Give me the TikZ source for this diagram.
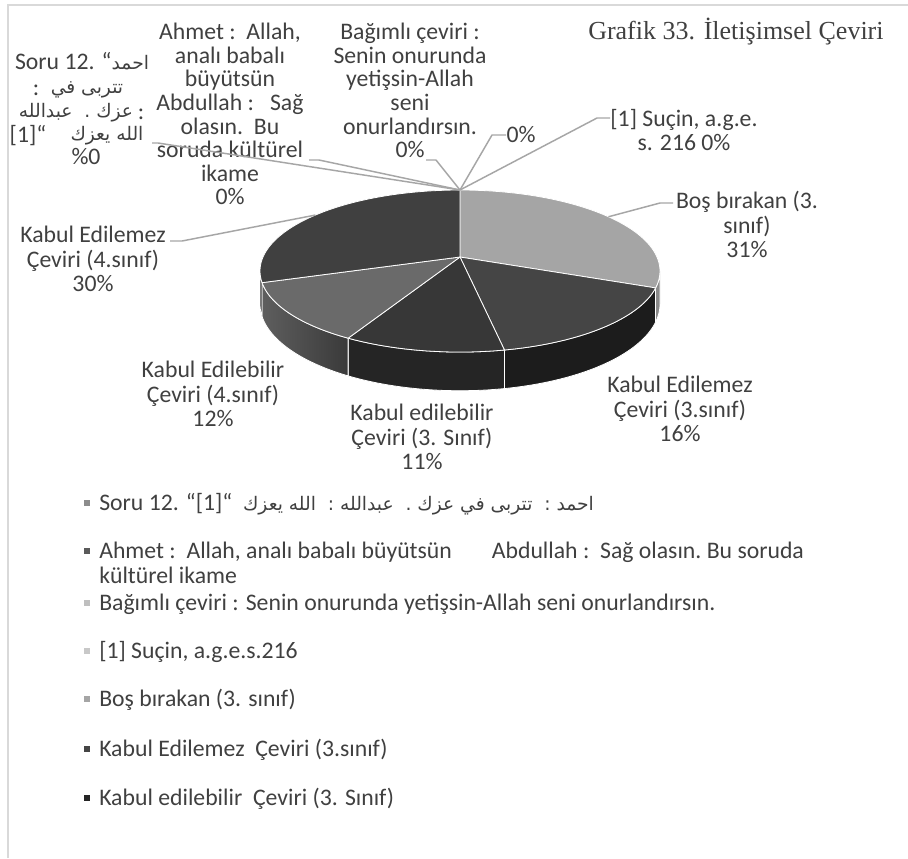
\documentclass[tikz,border=0pt]{standalone}
\usepackage{fontspec}
\setmainfont{Carlito}
\newfontfamily\titlefont{Liberation Serif}
\newfontfamily\ar[Script=Arabic]{DejaVu Sans}
\TeXXeTstate=1
\definecolor{txt}{HTML}{404040}
\definecolor{leader}{HTML}{A6A6A6}
\definecolor{framec}{HTML}{D9D9D9}
\definecolor{cbos}{HTML}{A5A5A5}
\definecolor{cbosside}{HTML}{8A8A8A}
\definecolor{cke3}{HTML}{454545}
\definecolor{cke3side}{HTML}{1C1C1C}
\definecolor{ckeb3}{HTML}{373737}
\definecolor{ckeb3side}{HTML}{252525}
\definecolor{ckeb4}{HTML}{6A6A6A}
\definecolor{ckeb4sa}{HTML}{5E5E5E}
\definecolor{ckeb4sb}{HTML}{3A3A3A}
\definecolor{cke4}{HTML}{404040}
\definecolor{cke4side}{HTML}{303030}
\definecolor{bsoru}{HTML}{8C8C8C}
\definecolor{bahmet}{HTML}{5A5A5A}
\definecolor{bbag}{HTML}{BFBFBF}
\definecolor{bsucin}{HTML}{C8C8C8}
\pgfmathdeclarefunction{pkx}{1}{\pgfmathparse{460+197*sin(#1)/(1+0.173*cos(#1))}}
\pgfmathdeclarefunction{pky}{1}{\pgfmathparse{257-78.6*cos(#1)/(1+0.173*cos(#1))}}
\pgfmathdeclarefunction{pkb}{1}{\pgfmathparse{257+(32-78.6*cos(#1))/(1+0.173*cos(#1))}}
\newcommand\pietop[3]{%
  \path[fill=#3, draw=white, line width=0.6pt, line join=round] (ctr) -- plot[domain=#1:#2, samples=60, variable=\t] ({pkx(\t)},{pky(\t)}) -- cycle;}
\newcommand\pieside[3]{%
  \path[draw=white, line width=0.6pt, #3] plot[domain=#1:#2, samples=40, variable=\t] ({pkx(\t)},{pky(\t)}) -- plot[domain=#2:#1, samples=40, variable=\t] ({pkx(\t)},{pkb(\t)}) -- cycle;}
\newcommand\arw{\ar\fontsize{14}{15}\selectfont}
\newcommand\fnlbl{\fontsize{17.8}{18.4}\selectfont\lineskiplimit=-10pt\relax}
\newcommand\fntop{\fontsize{17.8}{17.7}\selectfont\lineskiplimit=-10pt\relax}
\newcommand\fnleg{\fontsize{17.8}{18.8}\selectfont\lineskiplimit=-10pt\relax}
\begin{document}
\begin{tikzpicture}[x=0.75pt,y=-0.75pt,
  lbl/.style={font=\fnlbl, text=txt, align=center, inner sep=0pt, anchor=north},
  lbltop/.style={lbl, font=\fntop},
  lone/.style={font=\fnlbl, text=txt, inner sep=0pt, anchor=base},
  arl/.style={font=\arw, text=txt, inner sep=0pt, anchor=base},
  leg/.style={font=\fnleg, text=txt, inner sep=0pt, anchor=base west},
  bul/.style={rectangle, inner sep=0pt, minimum size=4.5pt},
  leaderline/.style={draw=leader, line width=1.1pt, line join=round}]
\useasboundingbox (0,0) rectangle (908,858);
\fill[white] (0,0) rectangle (908,858);
% frame
\draw[framec, line width=1.5pt] (8,858) -- (8,5) -- (908,5);
% title
\node[anchor=west, inner sep=0pt, text=txt, font=\titlefont\fontsize{19.5}{22}\selectfont] (title) at (588,32) {Grafik 33. İletişimsel Çeviri};
% pie
\coordinate (ctr) at (460,257);
\pieside{99.96}{111.6}{fill=cbosside}
\pieside{111.6}{169.2}{fill=cke3side}
\pieside{169.2}{208.8}{fill=ckeb3side}
\pieside{208.8}{252}{left color=ckeb4sa, right color=ckeb4sb}
\pieside{252}{260.04}{fill=cke4side}
\pietop{0}{111.6}{cbos}
\pietop{111.6}{169.2}{cke3}
\pietop{169.2}{208.8}{ckeb3}
\pietop{208.8}{252}{ckeb4}
\pietop{252}{360}{cke4}
\coordinate (ptop) at ({pkx(0)},{pky(0)});
\coordinate (pbos) at ({pkx(55.8)},{pky(55.8)});
\coordinate (pke4) at ({pkx(306)},{pky(306)});
% data label of "Soru 12", line by line
\node[lone] (lsoru1) at (82,69) {Soru 12. “{\arw\beginR احمد\endR}};
\node[lone] (lsoru2c) at (36,95) {:};
\node[arl] (lsoru2a) at (87,93) {\beginR تتربى في\endR};
\node[arl] (lsoru3a) at (76,117) {\beginR عزك .\ \ عبدالله\endR};
\node[lone] (lsoru3c) at (141,119) {:};
\node[lone] (lsoru4b) at (28,142) {[1]“};
\node[arl] (lsoru4a) at (107,140) {\beginR الله يعزك\endR};
\node[lone] (lsoru5) at (86,164) {\%0};
% other data labels
\node[lbltop] (lahmet) at (230,23) {Ahmet :\ \ Allah,\\analı babalı\\büyütsün\\Abdullah :\ \ \ Sağ\\olasın.\ \ Bu\\soruda kültürel\\ikame\\0\%};
\node[lbltop] (lbag) at (410,23) {Bağımlı çeviri :\\Senin onurunda\\yetişsin-Allah\\seni\\onurlandırsın.\\0\%};
\node[lbl] (lzero) at (521,126) {0\%};
\node[lbl] (lsucin) at (684,109) {[1] Suçin, a.g.e.\\s. 216 0\%};
\node[lbl] (lbos) at (747,191) {Boş bırakan (3.\\sınıf)\\31\%};
\node[lbl] (lke3) at (680,376) {Kabul Edilemez\\Çeviri (3.sınıf)\\16\%};
\node[lbl] (lkeb3) at (422,404) {Kabul edilebilir\\Çeviri (3. Sınıf)\\11\%};
\node[lbl] (lkeb4) at (213,361) {Kabul Edilebilir\\Çeviri (4.sınıf)\\12\%};
\node[lbl] (lke4) at (93,226) {Kabul Edilemez\\Çeviri (4.sınıf)\\30\%};
% leader lines
\coordinate (tsoru) at (152,143);
\coordinate (tahmet) at (309,160);
\coordinate (tbag) at (426,160);
\coordinate (tzero) at (506,135);
\coordinate (tsucin) at (610,118);
\coordinate (tbos) at (673,203);
\coordinate (tke4) at (170,241);
\draw[leaderline] (tsoru) -- ++(6,0) -- (ptop);
\draw[leaderline] (tahmet) -- ++(10,0) -- (ptop);
\draw[leaderline] (tbag) -- ++(10,0) -- (ptop);
\draw[leaderline] (tzero) -- ++(-14,0) -- (ptop);
\draw[leaderline] (tsucin) -- ++(-13,0) -- (ptop);
\draw[leaderline] (tbos) -- ++(-13,0) -- (pbos);
\draw[leaderline] (tke4) -- ++(12,0) -- (pke4);
% legend
\node[bul, fill=bsoru] (b1) at (87,503) {};
\node[leg] (g1) at (99,510) {Soru 12. “[1]“\hspace{8pt}{\ar\fontsize{14}{15}\selectfont\beginR احمد :\ \ تتربى في عزك .\ \ عبدالله :\ \ الله يعزك\endR}};
\node[bul, fill=bahmet] (b2) at (87,551) {};
\node[leg, anchor=north west, align=left] (g2) at (99,542) {Ahmet :\ \ Allah, analı babalı büyütsün\hspace{30pt}Abdullah :\ \ Sağ olasın.\ Bu soruda\\kültürel ikame};
\node[bul, fill=bbag] (b3) at (87,603) {};
\node[leg] (g3) at (99,610) {Bağımlı çeviri : Senin onurunda yetişsin-Allah seni onurlandırsın.};
\node[bul, fill=bsucin] (b4) at (87,651) {};
\node[leg] (g4) at (99,658) {[1] Suçin, a.g.e.s.216};
\node[bul, fill=cbos] (b5) at (87,699) {};
\node[leg] (g5) at (99,706) {Boş bırakan (3. sınıf)};
\node[bul, fill=cke3] (b6) at (87,749) {};
\node[leg] (g6) at (99,756) {Kabul Edilemez\ \ Çeviri (3.sınıf)};
\node[bul, fill=ckeb3side] (b7) at (87,798) {};
\node[leg] (g7) at (99,805) {Kabul edilebilir\ \ Çeviri (3. Sınıf)};
\end{tikzpicture}
\end{document}
